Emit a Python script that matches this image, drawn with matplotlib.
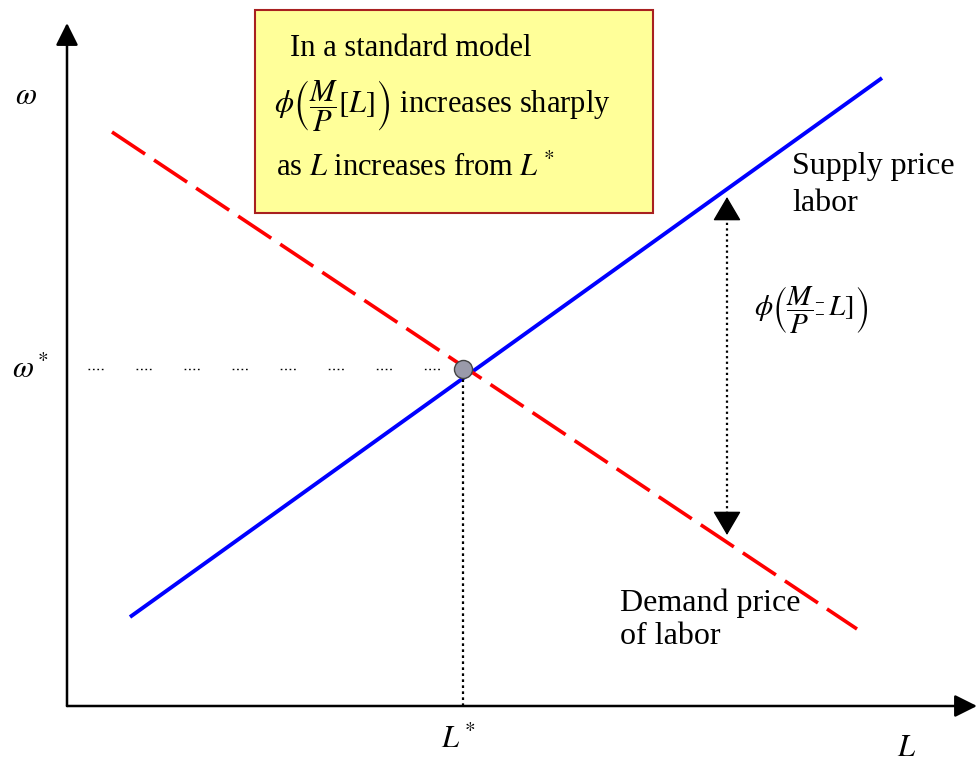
"""Supply and demand price of labor, with the phi(M/P[L]) gap annotation."""

import matplotlib.pyplot as plt

plt.rcParams["font.family"] = ["Liberation Serif", "DejaVu Serif"]
plt.rcParams["mathtext.fontset"] = "stix"

# curve end points (L, omega)
supply_L = [0.63, 8.15]
supply_w = [0.89, 6.28]
demand_L = [0.45, 7.90]
demand_w = [5.74, 0.77]

# equilibrium
L_star = 3.96
w_star = 3.37

# gap arrow
gap_L = 6.60
gap_top = 5.09
gap_bottom = 1.71

fig = plt.figure(figsize=(9.79, 7.62), dpi=100)
ax = fig.add_axes([0, 0, 1, 1])
ax.set_xlim(-0.67, 9.12)
ax.set_ylim(-0.56, 7.06)
ax.axis("off")

# axes with arrow heads
axis_arrow = dict(arrowstyle="-|>,head_length=0.8,head_width=0.4", lw=1.8,
                  color="black", mutation_scale=17, shrinkA=0, shrinkB=0)
ax.annotate("", xy=(0, 6.83), xytext=(0, 0), arrowprops=axis_arrow)
ax.annotate("", xy=(9.10, 0), xytext=(0, 0), arrowprops=axis_arrow)

# curves
ax.plot(supply_L, supply_w, color="#0000ff", lw=2.8, solid_capstyle="butt")
ax.plot(demand_L, demand_w, color="#ff0000", lw=2.6, dashes=(11, 3))

# guides to the equilibrium
ax.plot([0.21, L_star - 0.08], [w_star, w_star], color="black", lw=1,
        dashes=(1.2, 2, 1.2, 2, 1.2, 2, 1.2, 23.8))
ax.plot([L_star, L_star], [0, w_star - 0.06], color="black", lw=1.6,
        dashes=(1.2, 1.5))
ax.plot([L_star], [w_star], marker="o", ms=13, mfc="#9a9aaa",
        mec="#444444", mew=1, ls="none")

# gap arrow: dotted shaft, solid heads
ax.plot([gap_L, gap_L], [gap_bottom + 0.1, gap_top - 0.1], color="black",
        lw=1.6, dashes=(1, 1.5))
head = dict(arrowstyle="-|>,head_length=0.85,head_width=0.5", lw=1,
            color="black", mutation_scale=18, shrinkA=0, shrinkB=0)
ax.annotate("", xy=(gap_L, gap_top), xytext=(gap_L, gap_top - 0.22),
            arrowprops=head)
ax.annotate("", xy=(gap_L, gap_bottom), xytext=(gap_L, gap_bottom + 0.22),
            arrowprops=head)

# yellow note
note = plt.Rectangle((1.88, 4.93), 3.98, 2.03, transform=ax.transData,
                     fc="#ffff99", ec="#a82020", lw=1.5)
ax.add_patch(note)
ax.text(2.23, 6.57, "In a standard model", fontsize=22, va="center")
ax.text(2.07, 6.00, r"$\phi\left(\dfrac{M}{P}[L]\right)$ increases sharply",
        fontsize=22, va="center")
ax.text(2.09, 5.38, r"as $L$ increases from $L^*$", fontsize=22,
        va="center")

# labels
ax.text(-0.52, 6.10, r"$\omega$", fontsize=22, va="center")
ax.text(-0.55, 3.36, r"$\omega^*$", fontsize=22, va="center")
ax.text(L_star - 0.05, -0.34, r"$L^*$", fontsize=22, va="center",
        ha="center")
ax.text(8.30, -0.43, r"$L$", fontsize=22, va="center")
ax.text(7.25, 5.21, "Supply price\nlabor", fontsize=23, va="center",
        linespacing=1.38)
ax.text(6.87, 3.96,
        r"$\phi\left(\dfrac{M}{P}\genfrac{}{}{0}{2}{-}{-}L]\right)$",
        fontsize=21, va="center")
ax.text(5.53, 0.86, "Demand price\nof labor", fontsize=23, va="center",
        linespacing=1.2)

fig.savefig("out.png", dpi=100)
